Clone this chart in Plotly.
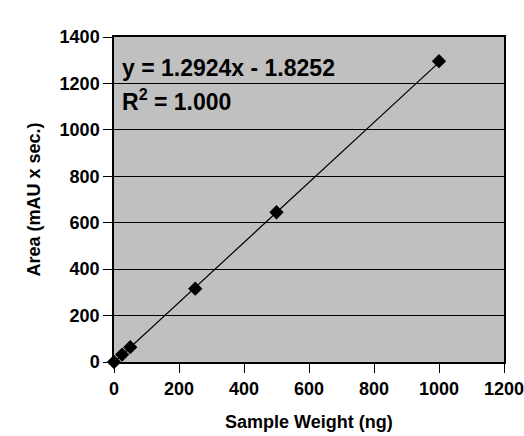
import plotly.graph_objects as go

# Calibration data: sample weight (ng) vs peak area (mAU x sec.)
sample_weight = [0, 25, 50, 250, 500, 1000]
peak_area = [0, 32, 64, 316, 645, 1296]

# Linear fit reported on the chart
slope = 1.2924
intercept = -1.8252
r_squared = 1.000
fit_x = [0, 1000]
fit_y = [slope * x + intercept for x in fit_x]

x_ticks = [0, 200, 400, 600, 800, 1000, 1200]
y_ticks = [0, 200, 400, 600, 800, 1000, 1200, 1400]

FONT = "Liberation Sans, Arial, sans-serif"

fig = go.Figure()
fig.add_trace(go.Scatter(
    x=fit_x, y=fit_y, mode="lines",
    line=dict(color="black", width=1.2),
    hoverinfo="skip", showlegend=False,
))
fig.add_trace(go.Scatter(
    x=sample_weight, y=peak_area, mode="markers",
    marker=dict(symbol="diamond", size=11, color="black"),
    cliponaxis=False, showlegend=False,
))

fig.add_annotation(
    x=0, y=1.0, xref="paper", yref="paper", xanchor="left", yanchor="middle",
    xshift=6, yshift=-31,
    text=f"<b>y = {slope}x - {abs(intercept)}</b>",
    showarrow=False, font=dict(family=FONT, size=23, color="black"),
)
fig.add_annotation(
    x=0, y=1.0, xref="paper", yref="paper", xanchor="left", yanchor="middle",
    xshift=6, yshift=-63,
    text=f"<b>R<sup>2</sup> = {r_squared:.3f}</b>",
    showarrow=False, font=dict(family=FONT, size=23, color="black"),
)
# x-axis title placed below the tick labels
fig.add_annotation(
    x=0.5, y=0, xref="paper", yref="paper", xanchor="center", yanchor="middle",
    yshift=-60, text="<b>Sample Weight (ng)</b>",
    showarrow=False, font=dict(family=FONT, size=18, color="black"),
)

fig.update_layout(
    width=524, height=436,
    margin=dict(l=114, r=20, t=37, b=74, autoexpand=False),
    paper_bgcolor="white",
    plot_bgcolor="#c0c0c0",
    font=dict(family=FONT, color="black"),
    xaxis=dict(
        range=[0, 1200], tickvals=x_ticks,
        ticktext=[f"<b>{v}</b>" for v in x_ticks],
        tickfont=dict(size=18), ticklabeloverflow="allow", ticklabelstandoff=1,
        ticks="outside", ticklen=9, tickcolor="black", tickwidth=1.2,
        showline=True, linecolor="black", linewidth=1.5, mirror=True,
        showgrid=False, zeroline=False, automargin=False,
    ),
    yaxis=dict(
        range=[0, 1400], tickvals=y_ticks,
        ticktext=[f"<b>{v}</b>" for v in y_ticks],
        tickfont=dict(size=18), ticklabeloverflow="allow",
        ticks="outside", ticklen=9, tickcolor="black", tickwidth=1.2,
        showline=True, linecolor="black", linewidth=1.5, mirror=True,
        showgrid=True, gridcolor="black", gridwidth=1.2, zeroline=False,
        automargin=False,
        title=dict(text="<b>Area (mAU x sec.)</b>", font=dict(size=18), standoff=14),
    ),
)

fig.write_html("out.html")
